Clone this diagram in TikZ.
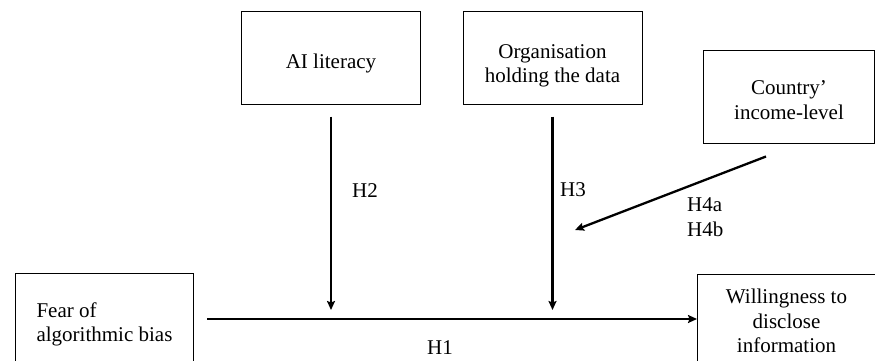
\documentclass[tikz,border=0pt]{standalone}
\usepackage{fontspec}
\setmainfont{Liberation Serif}
\usetikzlibrary{arrows.meta, calc}
\usetikzlibrary{positioning}

\tikzset{
    varbox/.style = {draw, line width = 1pt, minimum width = 179pt, minimum height = 92pt,
                     align = center, inner sep = 0pt},
    effect/.style = {line width = 2.3pt, -{Stealth[length = 9pt, width = 8pt, inset = 1.5pt]}},
    hyp/.style    = {inner sep = 0pt, align = left}
}

\begin{document}
\begin{tikzpicture}[x = 1pt, y = -1pt, font = \fontsize{21}{24.5}\selectfont]

    \useasboundingbox (0,0) rectangle (875,361);
    \clip (0,0) rectangle (875,361);

    \def\gap{12pt}

    % moderators
    \node[varbox, label = {[yshift = -5pt]center:AI literacy}] (ai) at (331,58) {};
    \node[varbox, label = {[align = center, yshift = -8pt]center:Organisation\\holding the data}]
          (org) at (552.5,58) {};
    \node[varbox, minimum width = 171pt,
          label = {[align = center, yshift = -3pt]center:Country’\\income-level}] (country) at (789,97) {};

    % main variables
    \node[varbox, anchor = north west, align = left, minimum width = 178pt,
          minimum height = 102pt, inner xsep = 20pt] (fear) at (15,273) {Fear of\\algorithmic bias};
    \node[varbox, anchor = north west, minimum width = 178pt, minimum height = 93pt]
          (will) at (697,274) {Willingness to\\disclose\\information};

    \coordinate (h1start) at (207,319);
    \coordinate (h4end)   at (575,230);

    \draw[effect] (h1start) -- (h1start -| will.west);
    \draw[effect, shorten > = 9pt] ([yshift = -\gap]ai.south)  -- (ai.south  |- h1start);
    \draw[effect, shorten > = 9pt] ([yshift = -\gap]org.south) -- (org.south |- h1start);
    \draw[effect] ([shift = {(-23,13)}]country.south) -- (h4end);

    % hypotheses
    \node[hyp] (h1) at (440,348) {H1};
    \node[hyp] (h2) at (365,191) {H2};
    \node[hyp] (h3) at (573,190) {H3};
    \node[hyp, anchor = west] (h4) at (687,217) {H4a\\H4b};

\end{tikzpicture}
\end{document}
